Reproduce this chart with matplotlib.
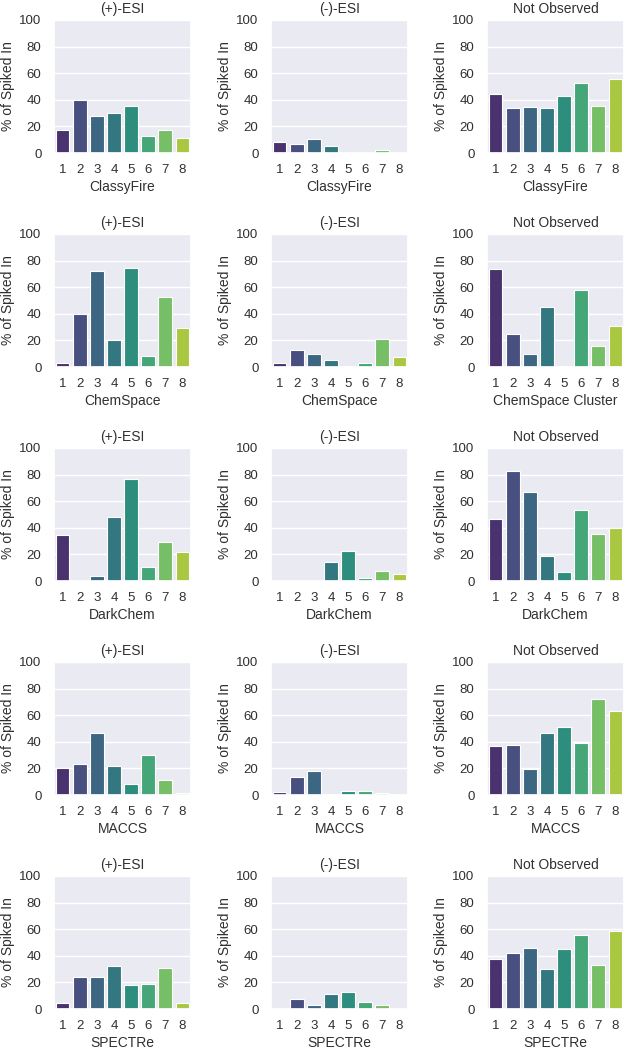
import matplotlib
matplotlib.use("Agg")
import matplotlib.pyplot as plt
import seaborn as sns

# cluster ids on the x axis
clusters = ['1', '2', '3', '4', '5', '6', '7', '8']

# panel titles (columns) and x labels (rows)
modes = ['(+)-ESI', '(-)-ESI', 'Not Observed']
xlabels = [
    ['ClassyFire', 'ClassyFire', 'ClassyFire'],
    ['ChemSpace', 'ChemSpace', 'ChemSpace Cluster'],
    ['DarkChem', 'DarkChem', 'DarkChem'],
    ['MACCS', 'MACCS', 'MACCS'],
    ['SPECTRe', 'SPECTRe', 'SPECTRe'],
]

# % of spiked-in compounds per cluster
classyfire_pos = [17, 40, 28, 30, 35, 13, 17.5, 11]
classyfire_neg = [8.5, 7, 10.5, 5, 0, 0.3, 2.2, 0.3]
classyfire_not = [44.7, 34, 34.7, 34, 43, 53, 35.7, 55.8]

chemspace_pos = [2.8, 39.7, 72.3, 20, 74.7, 8.5, 53, 29]
chemspace_neg = [3, 13, 10, 5, 0, 3, 21.3, 7.8]
chemspace_not = [73.5, 25, 10, 45, 0, 58, 16, 31]

darkchem_pos = [34.5, 0, 4, 48, 76.5, 10.3, 29.5, 21.7]
darkchem_neg = [0, 0, 0.3, 14.4, 22.4, 2.5, 7.3, 5.4]
darkchem_not = [46.3, 83, 66.7, 19, 7, 53.6, 35, 40]

maccs_pos = [20, 23.2, 46.6, 22, 8.5, 30, 11, 1.6]
maccs_neg = [2, 13.4, 18, 0.2, 2.8, 3.3, 1.8, 0.3]
maccs_not = [36.5, 37.3, 19.4, 46.3, 50.9, 38.8, 72.5, 63.5]

spectre_pos = [4.3, 24, 23.7, 32, 17.8, 18.7, 30.7, 4.3]
spectre_neg = [0, 7.3, 3, 11.3, 12.5, 5.5, 3, 0]
spectre_not = [37.7, 42.3, 46, 29.7, 45, 55.3, 33.2, 58.8]

data = [
    [classyfire_pos, classyfire_neg, classyfire_not],
    [chemspace_pos, chemspace_neg, chemspace_not],
    [darkchem_pos, darkchem_neg, darkchem_not],
    [maccs_pos, maccs_neg, maccs_not],
    [spectre_pos, spectre_neg, spectre_not],
]

sns.set_theme(style="darkgrid")
plt.rcParams['font.family'] = ['Liberation Sans', 'DejaVu Sans']
for key in ['text.color', 'axes.labelcolor', 'xtick.color', 'ytick.color']:
    plt.rcParams[key] = '#303030'

# seaborn barplot look: viridis, desaturated a bit
palette = sns.color_palette("viridis", 8, desat=0.75)

W, H = 624, 1050
fig = plt.figure(figsize=(W / 100, H / 100), dpi=100)

col_left = [54, 271, 487]   # px
row_top = [20, 234, 448, 662, 876]  # px
aw, ah = 137, 133

for r in range(5):
    for c in range(3):
        left = col_left[c] / W
        bottom = 1 - (row_top[r] + ah) / H
        ax = fig.add_axes([left, bottom, aw / W, ah / H])
        ax.bar(clusters, data[r][c], width=0.8, color=palette,
               edgecolor='white', linewidth=0.8)
        ax.set_ylim(0, 100)
        ax.set_xlim(-0.5, 7.5)
        ax.set_yticks([0, 20, 40, 60, 80, 100])
        ax.grid(axis='x', visible=False)
        ax.grid(axis='y', color='white', linewidth=1.0)
        ax.tick_params(axis='both', length=0, labelsize=9.5)
        ax.tick_params(axis='y', pad=9)
        ax.tick_params(axis='x', pad=8)
        ax.set_title(modes[c], fontsize=10, pad=5)
        ax.set_xlabel(xlabels[r][c], fontsize=10, labelpad=3)
        ax.set_ylabel('% of Spiked In', fontsize=10, labelpad=3)

fig.savefig("out.png", dpi=100)
